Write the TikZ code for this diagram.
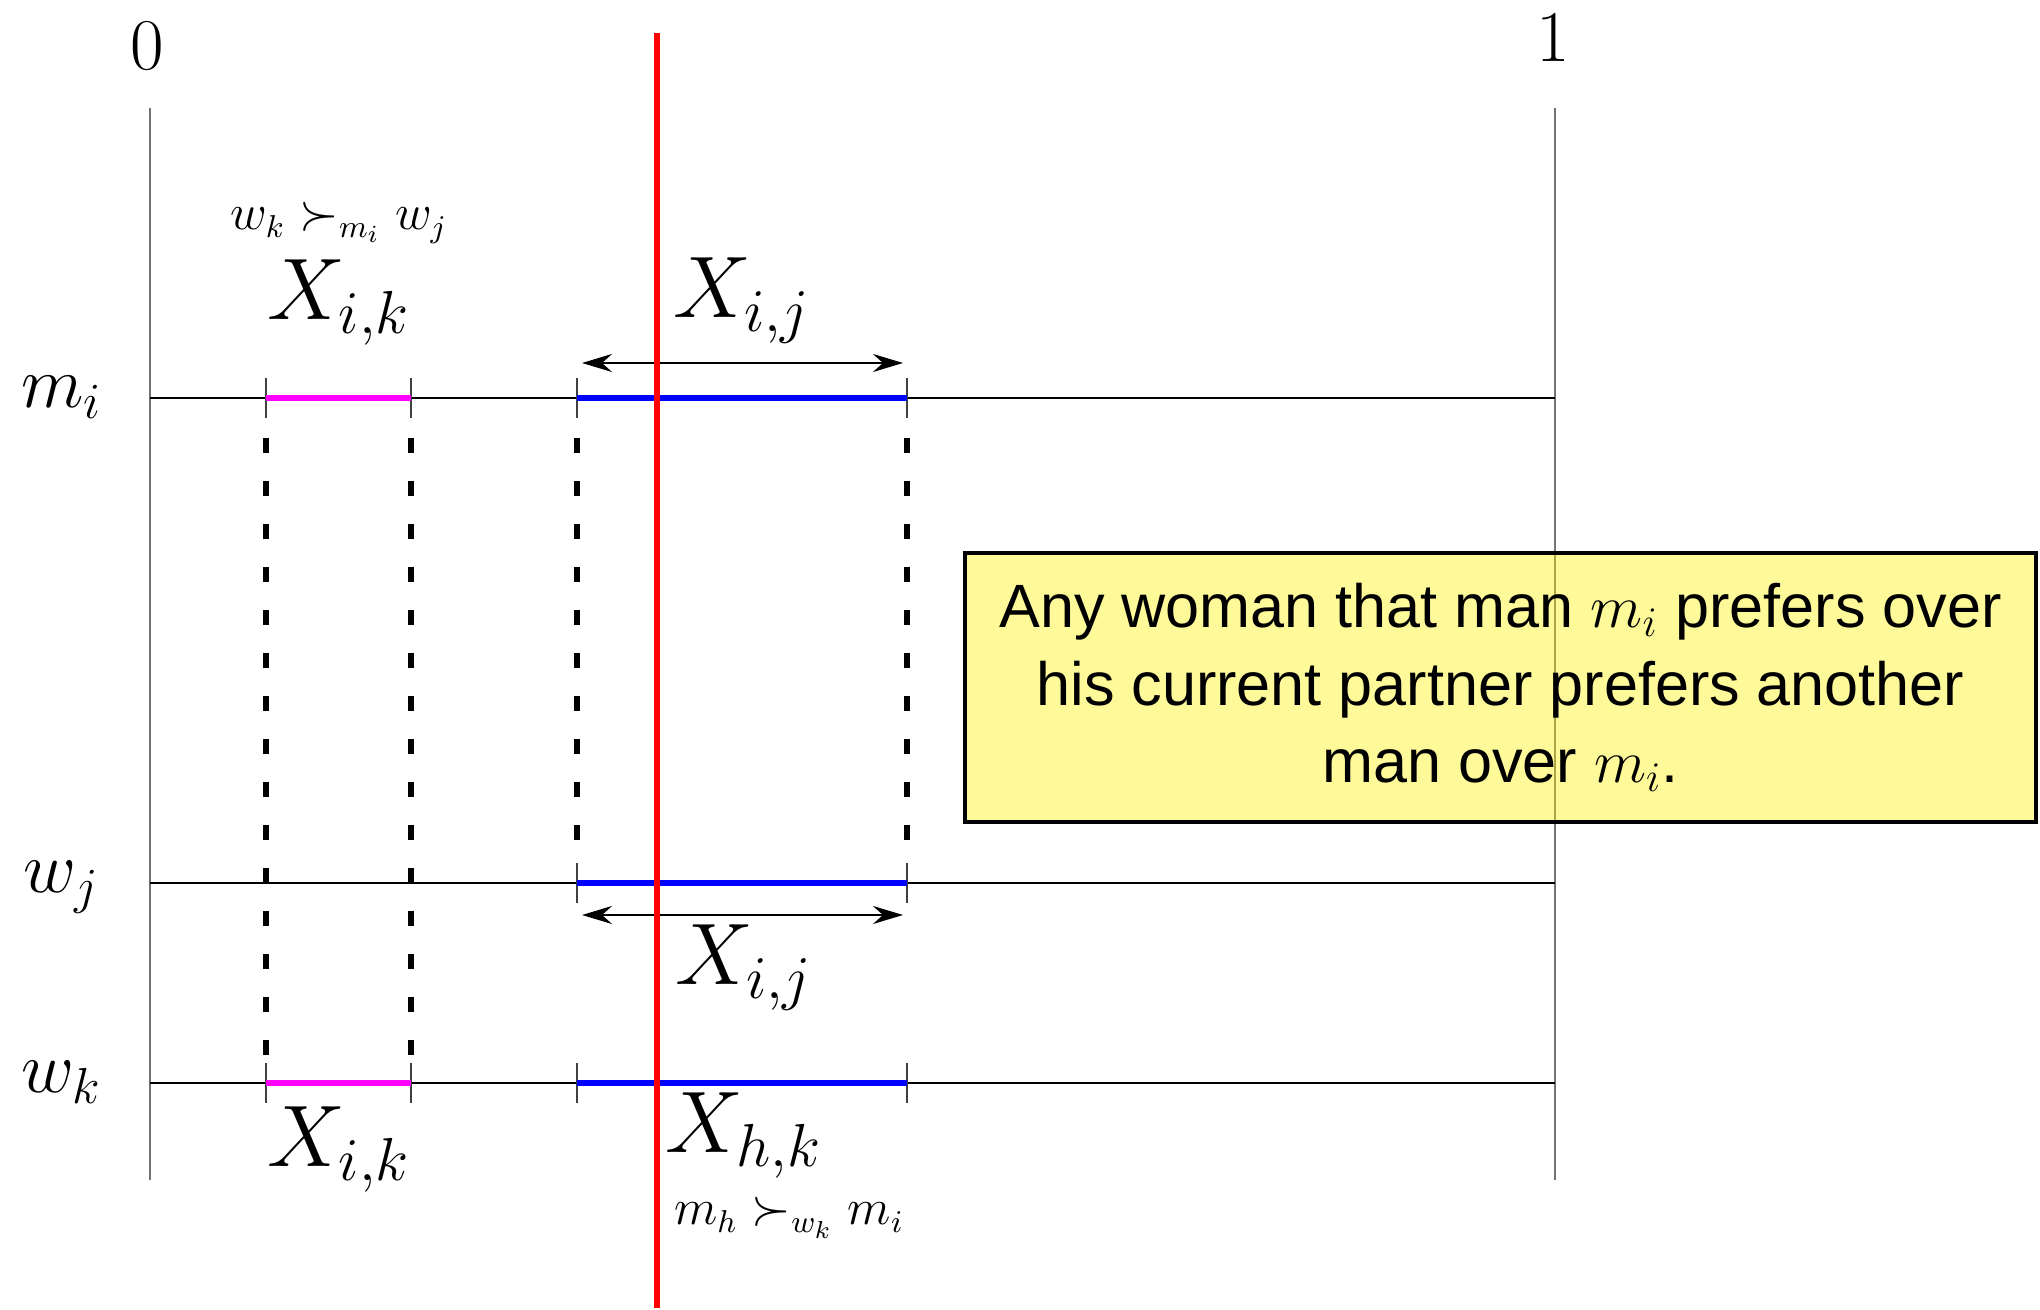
\documentclass[tikz,border=0pt]{standalone}
\usepackage{fontspec}
\usepackage{amsmath, amssymb}
\usetikzlibrary{arrows.meta}
\newfontfamily\notefont{Liberation Sans}
\definecolor{segmag}{rgb}{1,0,1}
\definecolor{segblue}{rgb}{0,0,1}

\begin{document}
\begin{tikzpicture}[
  axis/.style={black!55, line width=0.7pt},
  rowline/.style={black, line width=0.5pt},
  tickmark/.style={black!75, line width=0.5pt},
  seg/.style={line width=1.7pt},
  proj/.style={black, line width=1.8pt, dash pattern=on 0.15cm off 0.28cm},
  widtharrow/.style={arrows={Stealth[length=0.3cm, width=0.18cm, inset=0.1cm]-Stealth[length=0.3cm, width=0.18cm, inset=0.1cm]}, line width=0.7pt},
  numlabel/.style={font=\fontsize{22}{26}\selectfont, inner sep=0pt, anchor=base},
  rowlabel/.style={font=\fontsize{22}{26}\selectfont, inner sep=0pt, anchor=base},
  biglabel/.style={font=\fontsize{26.5}{30}\selectfont, inner sep=0pt, anchor=base},
  smalllabel/.style={font=\fontsize{13.4}{16}\selectfont, inner sep=0pt, anchor=base},
  notebox/.style={draw, line width=1.2pt, fill=yellow, fill opacity=0.4, text opacity=1,
    minimum width=10.71cm, minimum height=2.69cm, inner sep=0pt, align=center,
    font=\notefont\fontsize{17.4}{22}\selectfont},
]
\useasboundingbox (0,0) rectangle (20.40,13.10);
% ---- the interval [0,1] ----
\draw[axis] (1.50,1.30) -- (1.50,12.02);
\draw[axis] (15.55,1.30) -- (15.55,12.02);
\node[numlabel] (zero) at (1.47,12.40) {$0$};
\node[numlabel] (one) at (15.53,12.48) {$1$};
% ---- one row for each agent ----
\foreach \y/\name/\txt in {9.12/mi/m_i, 4.27/wj/w_j, 2.27/wk/w_k} {
  \draw[rowline] (1.50,\y) -- (15.55,\y);
  \node[rowlabel] (lab-\name) at (0.62,{\y-0.10}) {$\txt$};
}
% ticks
\foreach \x in {2.66,4.11,5.77,9.07} {
  \draw[tickmark] (\x,8.92) -- (\x,9.32);
  \draw[tickmark] (\x,2.07) -- (\x,2.47);
}
\foreach \x in {5.77,9.07}
  \draw[tickmark] (\x,4.07) -- (\x,4.47);
% pieces of the interval
\draw[seg, segmag] (2.66,9.12) -- (4.11,9.12);
\draw[seg, segmag] (2.66,2.27) -- (4.11,2.27);
\foreach \y in {9.12,4.27,2.27}
  \draw[seg, segblue] (5.77,\y) -- (9.07,\y);
% ---- projections between the rows ----
\draw[proj] (2.66,8.72) -- (2.66,2.53);
\draw[proj] (4.11,8.72) -- (4.11,2.53);
\draw[proj] (5.77,8.72) -- (5.77,4.62);
\draw[proj] (9.07,8.72) -- (9.07,4.62);
% width of X_{i,j}
\coordinate (ijtopL) at (5.82,9.47);
\coordinate (ijtopR) at (9.03,9.47);
\coordinate (ijbotL) at (5.82,3.95);
\coordinate (ijbotR) at (9.03,3.95);
\draw[widtharrow] (ijtopL) -- (ijtopR);
\draw[widtharrow] (ijbotL) -- (ijbotR);
% ---- labels ----
\node[smalllabel] (pref-m) at (3.39,10.80) {$w_k \succ_{m_i} w_j$};
\node[biglabel] (Xik-top) at (3.39,9.90) {$X_{i,k}$};
\node[biglabel] (Xij-top) at (7.42,9.92) {$X_{i,j}$};
\node[biglabel] (Xij-bot) at (7.44,3.25) {$X_{i,j}$};
\node[biglabel] (Xik-bot) at (3.39,1.43) {$X_{i,k}$};
\node[biglabel] (Xhk) at (7.44,1.57) {$X_{h,k}$};
\node[smalllabel] (pref-w) at (7.89,0.85) {$m_h \succ_{w_k} m_i$};
% ---- note ----
\node[notebox] (note) at (15.005,6.225)
  {Any woman that man $m_i$ prefers over\\ his current partner prefers another\\ man over $m_i$.};
% ---- the cut ----
\coordinate (cutTop) at (6.57,12.77);
\coordinate (cutBot) at (6.57,0.02);
\draw[red, line width=1.5pt] (cutBot) -- (cutTop);
\end{tikzpicture}
\end{document}
